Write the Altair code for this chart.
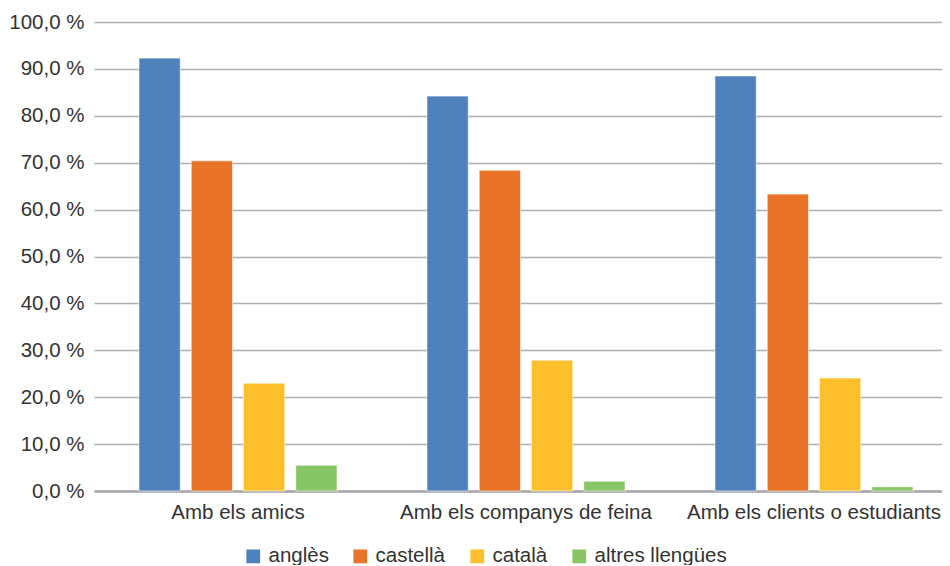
import altair as alt
import pandas as pd

groups = ["Amb els amics", "Amb els companys de feina", "Amb els clients o estudiants"]
languages = ["anglès", "castellà", "català", "altres llengües"]
angles = [92.3, 84.2, 88.5]
castella = [70.4, 68.4, 63.3]
catala = [23.0, 27.9, 24.1]
altres = [5.5, 2.1, 0.9]
colors = ["#4f81bd", "#e97428", "#fdbf2b", "#88c665"]

rows = []
for i, g in enumerate(groups):
    for lang, vals in zip(languages, [angles, castella, catala, altres]):
        rows.append({"grup": g, "llengua": lang, "valor": vals[i]})
df = pd.DataFrame(rows)

font = "Liberation Sans"
fs = 20.5

chart = alt.Chart(df).mark_bar(stroke="#ffffff", strokeOpacity=0.6, strokeWidth=1).encode(
    x=alt.X("grup:N", sort=groups, title=None,
            scale=alt.Scale(paddingInner=0, paddingOuter=0, range=[0, 864]),
            axis=alt.Axis(labelAngle=0, ticks=False, domain=True, domainColor="#a6a6a8",
                          domainWidth=2.5, labelFontSize=fs, labelColor="#333333",
                          labelFont=font, labelPadding=11, labelLimit=0)),
    xOffset=alt.XOffset("llengua:N", sort=languages,
                        scale=alt.Scale(paddingInner=0.21, paddingOuter=0.86)),
    y=alt.Y("valor:Q", title=None,
            scale=alt.Scale(domain=[0, 100], nice=False),
            axis=alt.Axis(values=list(range(0, 101, 10)), domain=False, ticks=False,
                          labelExpr="replace(format(datum.value, '.1f'), '.', ',') + ' %'",
                          labelFontSize=fs, labelColor="#333333", labelFont=font,
                          labelPadding=10, gridColor="#aeaeb2", gridWidth=1.5)),
    color=alt.Color("llengua:N", sort=languages,
                    scale=alt.Scale(domain=languages, range=colors),
                    legend=alt.Legend(title=None, orient="none", direction="horizontal",
                                      legendX=149, legendY=524,
                                      symbolType="square", symbolSize=190,
                                      symbolStrokeWidth=0, labelFontSize=fs,
                                      labelFont=font, labelColor="#333333",
                                      columnPadding=21, labelOffset=5, labelLimit=0)),
).properties(
    width=848, height=469,
    autosize=alt.AutoSizeParams(type="none"),
    padding={"left": 86, "top": 14, "right": 0, "bottom": 74},
).configure_view(stroke=None)

chart.save("out.html", embed_options={"renderer": "svg", "actions": False})
